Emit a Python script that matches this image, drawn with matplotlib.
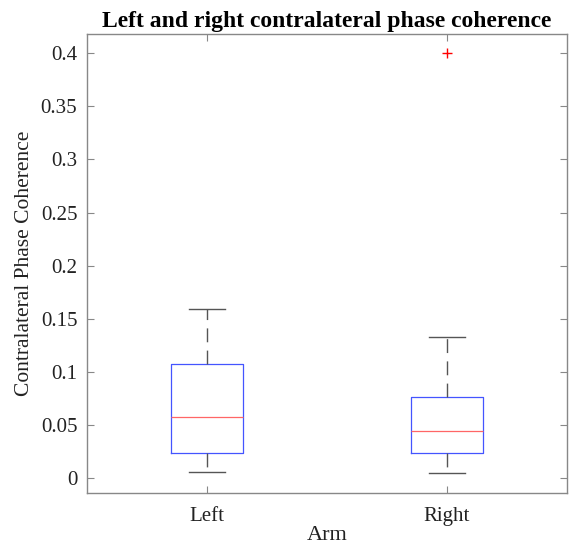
import matplotlib
matplotlib.use("Agg")
import matplotlib.pyplot as plt

categories = ["Left", "Right"]
q1 = [0.024, 0.0235]
med = [0.058, 0.044]
q3 = [0.107, 0.076]
whislo = [0.0056, 0.0047]
whishi = [0.159, 0.133]
fliers = [[], [0.4]]
yticks = [0, 0.05, 0.1, 0.15, 0.2, 0.25, 0.3, 0.35, 0.4]
ytick_labels = ["0", "0.05", "0.1", "0.15", "0.2", "0.25", "0.3", "0.35", "0.4"]

plt.rcParams['font.family'] = ['Liberation Serif', 'DejaVu Serif']

fig = plt.figure(figsize=(5.69, 5.5), dpi=100)
ax = fig.add_axes([0.153, 0.1036, 0.8435, 0.8344])

stats = []
for i, c in enumerate(categories):
    stats.append(dict(label=c, q1=q1[i], med=med[i], q3=q3[i],
                      whislo=whislo[i], whishi=whishi[i], fliers=fliers[i]))

ax.bxp(stats, positions=[1, 2], widths=0.3, showfliers=True,
       boxprops=dict(color='#4455ff', linewidth=0.9),
       medianprops=dict(color='#ff6666', linewidth=0.9),
       whiskerprops=dict(color='#555555', linewidth=1.0, linestyle=(0, (10, 6))),
       capprops=dict(color='#555555', linewidth=1.0),
       capwidths=0.15,
       flierprops=dict(marker='+', markeredgecolor='red', markersize=7, linestyle='none'))

ax.set_xlim(0.5, 2.5)
ax.set_ylim(-0.014, 0.418)
ax.set_yticks(yticks)
ax.set_yticklabels(ytick_labels)
ax.set_xticks([1, 2])
ax.set_xticklabels(categories)

for s in ax.spines.values():
    s.set_color('#888888')
    s.set_linewidth(1.0)
ax.tick_params(direction='in', top=True, right=True, length=5, color='#888888',
               labelsize=15, labelcolor='#222222')
ax.tick_params(axis='y', pad=7)
ax.tick_params(axis='x', pad=10)

ax.set_title("Left and right contralateral phase coherence", fontsize=17,
             fontweight='bold', pad=5)
ax.set_xlabel("Arm", fontsize=16, color='#222222', labelpad=0)
ax.set_ylabel("Contralateral Phase Coherence", fontsize=15.5, color='#222222', labelpad=5)

fig.savefig("out.png", dpi=100)
